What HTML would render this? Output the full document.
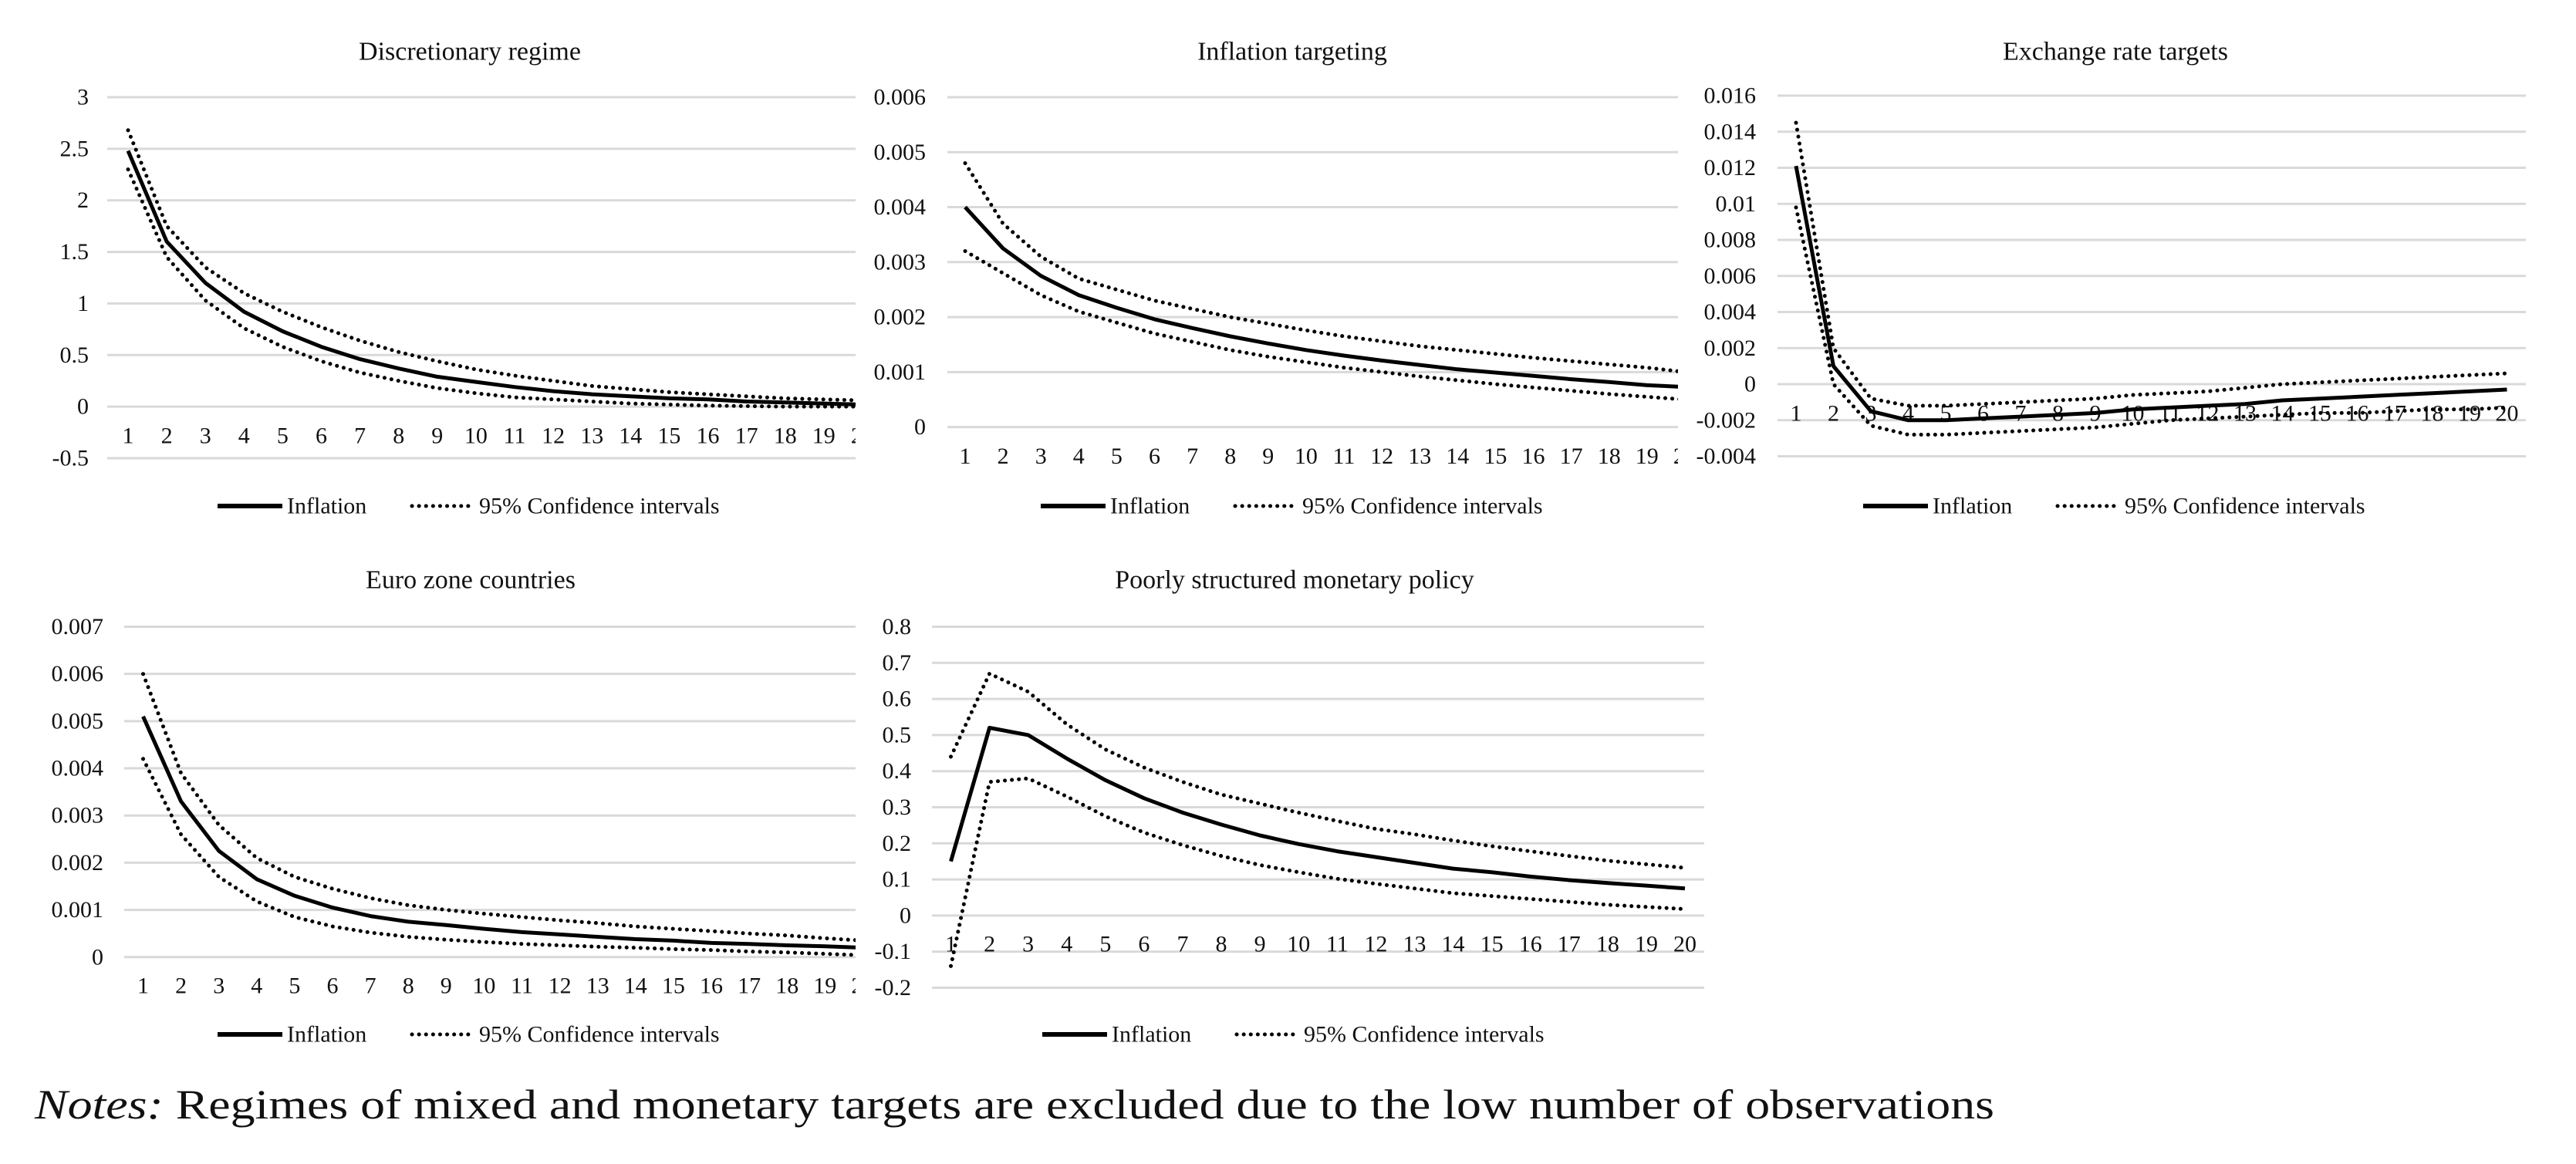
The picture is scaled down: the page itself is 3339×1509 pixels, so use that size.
<!DOCTYPE html>
<html><head><meta charset="utf-8"><style>
html,body{margin:0;padding:0;background:#fff;}
svg{display:block;}
text{font-family:"Liberation Serif",serif;fill:#111;}
</style></head><body>
<svg id="fig" width="3339" height="1509" viewBox="0 0 3339 1509" xmlns="http://www.w3.org/2000/svg">
<text x="45" y="1450" font-size="54" textLength="2540" lengthAdjust="spacingAndGlyphs"><tspan font-style="italic">Notes:</tspan> Regimes of mixed and monetary targets are excluded due to the low number of observations</text>
</svg>
<script>
const periods = [1,2,3,4,5,6,7,8,9,10,11,12,13,14,15,16,17,18,19,20];
const titles = ["Discretionary regime","Inflation targeting","Exchange rate targets","Euro zone countries","Poorly structured monetary policy"];
const inf1 = [2.48,1.6,1.2,0.92,0.73,0.58,0.46,0.37,0.29,0.24,0.19,0.15,0.12,0.1,0.08,0.07,0.05,0.04,0.03,0.02];
const up1 = [2.68,1.75,1.35,1.1,0.92,0.77,0.64,0.53,0.44,0.36,0.3,0.25,0.2,0.17,0.14,0.12,0.1,0.08,0.07,0.06];
const lo1 = [2.3,1.45,1.03,0.76,0.58,0.44,0.33,0.25,0.18,0.13,0.09,0.07,0.05,0.03,0.02,0.01,0.005,0,0,0];
const inf2 = [.0040,.00325,.00275,.0024,.00217,.00196,.0018,.00165,.00152,.0014,.0013,.00121,.00113,.00105,.00099,.00093,.00087,.00082,.00076,.00073];
const up2 = [.0048,.0037,.0031,.0027,.0025,.0023,.00215,.002,.00188,.00176,.00165,.00156,.00147,.0014,.00133,.00126,.0012,.00114,.00108,.001];
const lo2 = [.0032,.0028,.0024,.0021,.0019,.0017,.00155,.0014,.00128,.00118,.00108,.001,.00092,.00085,.00078,.00072,.00066,.0006,.00055,.0005];
const inf3 = [.0121,.001,-.0015,-.002,-.002,-.0019,-.0018,-.0017,-.0016,-.0014,-.0013,-.0012,-.0011,-.0009,-.0008,-.0007,-.0006,-.0005,-.0004,-.0003];
const up3 = [.0145,.002,-.0008,-.0012,-.0012,-.0011,-.001,-.0009,-.0008,-.0006,-.0005,-.0004,-.0002,0,.0001,.0002,.0003,.0004,.0005,.0006];
const lo3 = [.0098,0,-.0023,-.0028,-.0028,-.0027,-.0026,-.0025,-.0024,-.0022,-.002,-.0019,-.0018,-.0017,-.0016,-.0016,-.0015,-.0014,-.0014,-.0013];
const inf4 = [.0051,.0033,.00225,.00165,.0013,.00105,.00087,.00075,.00068,.0006,.00053,.00048,.00043,.00038,.00035,.0003,.00028,.00025,.00023,.0002];
const up4 = [.006,.0039,.0028,.0021,.0017,.00145,.00125,.0011,.001,.00092,.00085,.00078,.00072,.00065,.0006,.00055,.0005,.00046,.0004,.00035];
const lo4 = [.0042,.0026,.0017,.00118,.00085,.00065,.00052,.00043,.00037,.00032,.00028,.00025,.00022,.0002,.00017,.00015,.00012,.0001,.00007,.00004];
const inf5 = [0.15,0.52,0.50,0.435,0.375,0.325,0.285,0.252,0.222,0.198,0.178,0.162,0.146,0.13,0.12,0.108,0.098,0.09,0.083,0.075];
const up5 = [0.44,0.67,0.62,0.53,0.46,0.41,0.37,0.335,0.31,0.285,0.262,0.24,0.225,0.208,0.192,0.178,0.165,0.152,0.142,0.132];
const lo5 = [-0.14,0.37,0.38,0.33,0.275,0.23,0.195,0.165,0.14,0.12,0.102,0.088,0.075,0.062,0.054,0.046,0.038,0.03,0.024,0.018];
const yMins = [-0.5,0,-0.004,0,-0.2];
const yMaxs = [3,0.006,0.016,0.007,0.8];
const ySteps = [0.5,0.001,0.002,0.001,0.1];
const seriesInf = [inf1,inf2,inf3,inf4,inf5];
const seriesUp = [up1,up2,up3,up4,up5];
const seriesLo = [lo1,lo2,lo3,lo4,lo5];

// layout (pixels)
const L = [
 {c1:166,step:50.1,gl:139,gr:1109,clip:1109,pyMin:594,pyMax:126,lr:115,xly:565,tx:609,ty:67,ly:656,lx:282},
 {c1:1251,step:49.1,gl:1228,gr:2175,clip:2175,pyMin:553.6,pyMax:126,lr:1200,xly:591.5,tx:1675,ty:67,ly:656,lx:1349},
 {c1:2328,step:48.5,gl:2304,gr:3274,clip:3339,pyMin:591.5,pyMax:124,lr:2276,xly:536,tx:2742,ty:67,ly:656,lx:2415},
 {c1:185.5,step:49.1,gl:161,gr:1109,clip:1109,pyMin:1240.8,pyMax:812.5,lr:134,xly:1278,tx:610,ty:752,ly:1341,lx:282},
 {c1:1232.5,step:50.08,gl:1208,gr:2209,clip:2209,pyMin:1280.5,pyMax:812.5,lr:1181,xly:1224,tx:1678,ty:752,ly:1341,lx:1351}
];
const NS="http://www.w3.org/2000/svg";
const svg=document.getElementById('fig');
function mk(tag,attrs,parent){const e=document.createElementNS(NS,tag);for(const k in attrs)e.setAttribute(k,attrs[k]);(parent||svg).appendChild(e);return e;}
const defs=mk('defs',{});
for(let i=0;i<5;i++){
  const c=L[i];
  const g=mk('g',{});
  
  
  const cp=mk('clipPath',{id:'cp'+i},defs);
  mk('rect',{x:c.gl-40,y:c.pyMax-60,width:c.clip-(c.gl-40),height:c.pyMin-c.pyMax+120},cp);
  const yS=v=>c.pyMin+(v-yMins[i])/(yMaxs[i]-yMins[i])*(c.pyMax-c.pyMin);
  const xS=k=>c.c1+(k-1)*c.step;
  const t=mk('text',{x:c.tx,y:c.ty,'font-size':34,'text-anchor':'middle','dominant-baseline':'central'},g);
  t.textContent=titles[i];
  
  
  const n=Math.round((yMaxs[i]-yMins[i])/ySteps[i]);
  for(let j=0;j<=n;j++){
    const v=yMins[i]+j*ySteps[i];
    const y=yS(v);
    const gl=mk('line',{x1:c.gl,x2:c.gr,y1:y,y2:y,stroke:'#d9d9d9','stroke-width':3},g);
    
    
    const tl=mk('text',{x:c.lr,y:y,'font-size':30,'text-anchor':'end','dominant-baseline':'central'},g);
    tl.textContent=String(+v.toFixed(6));
    
    
  }
  const cg=mk('g',{'clip-path':'url(#cp'+i+')'},g);
  periods.forEach(p=>{
    const xl=mk('text',{x:xS(p),y:c.xly,'font-size':30,'text-anchor':'middle','dominant-baseline':'central'},cg);
    xl.textContent=String(p);
    
    
  });
  const pts=arr=>arr.map((v,k)=>xS(periods[k]).toFixed(1)+','+yS(v).toFixed(1)).join(' ');
  [seriesUp[i],seriesLo[i]].forEach((arr,m)=>{
    const pl=mk('polyline',{points:pts(arr),fill:'none',stroke:'#000','stroke-width':5,'stroke-dasharray':'0.1 9','stroke-linecap':'round'},cg);
    
    
  });
  const il=mk('polyline',{points:pts(seriesInf[i]),fill:'none',stroke:'#000','stroke-width':5,'stroke-linejoin':'round'},cg);
  
  
  // legend
  const lg=mk('g',{},g);
  
  
  mk('line',{x1:c.lx,x2:c.lx+84,y1:c.ly,y2:c.ly,stroke:'#000','stroke-width':6},lg);
  const lt=mk('text',{x:c.lx+90,y:c.ly,'font-size':30,'dominant-baseline':'central'},lg);
  lt.textContent='Inflation';
  
  
  mk('line',{x1:c.lx+252,x2:c.lx+333,y1:c.ly,y2:c.ly,stroke:'#000','stroke-width':5,'stroke-dasharray':'0.1 9','stroke-linecap':'round'},lg);
  const lt2=mk('text',{x:c.lx+339,y:c.ly,'font-size':30,'dominant-baseline':'central'},lg);
  lt2.textContent='95% Confidence intervals';
  
  
}
</script>
</body></html>
